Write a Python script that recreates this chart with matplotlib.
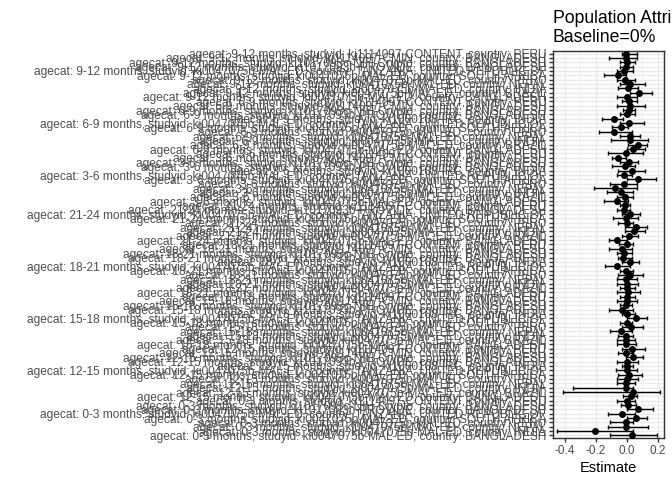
import numpy as np
import matplotlib
matplotlib.use("Agg")
import matplotlib.pyplot as plt

# age groups, top to bottom (ggplot puts the first factor level at the bottom)
agecats = ["9-12 months", "6-9 months", "3-6 months", "21-24 months",
           "18-21 months", "15-18 months", "12-15 months", "0-3 months"]

CONTENT = ("ki1114097-CONTENT", "PERU")
CMIN = ("ki1114097-CMIN", "BANGLADESH")
NIH = ("ki1017093c-NIH-Crypto", "BANGLADESH")
PROVIDE = ("ki1017093b-PROVIDE", "BANGLADESH")
IRC = ("ki1000108-IRC", "INDIA")
mal_ed = [("ki0047075b-MAL-ED", c) for c in
          ["TANZANIA, UNITED REPUBLIC OF", "SOUTH AFRICA", "PERU", "NEPAL",
           "INDIA", "BRAZIL", "BANGLADESH"]]
mal_ed_nobra = [s for s in mal_ed if s[1] != "BRAZIL"]

# studies inside each age group, top to bottom
studies = {
    "9-12 months": [CONTENT, CMIN, NIH, PROVIDE] + mal_ed,
    "6-9 months": [CONTENT, CMIN, NIH, PROVIDE, IRC] + mal_ed,
    "3-6 months": [CONTENT, CMIN, NIH, PROVIDE, IRC] + mal_ed,
    "21-24 months": [CONTENT, PROVIDE] + mal_ed,
    "18-21 months": [CONTENT, CMIN, NIH, PROVIDE, IRC] + mal_ed,
    "15-18 months": [CONTENT, CMIN, NIH, PROVIDE, IRC] + mal_ed,
    "12-15 months": [CONTENT, CMIN, NIH, PROVIDE, IRC] + mal_ed,
    "0-3 months": [CONTENT, NIH, PROVIDE] + mal_ed_nobra,
}

# estimates, top row first
estimate = [
    -0.006, -0.006, -0.002, -0.006, -0.019, -0.056, -0.011, 0.019, 0.009, 0.080,
    0.002, 0.015, 0.019, 0.015, 0.002, -0.084, 0.015, -0.041, -0.084, 0.019,
    0.019, 0.069, 0.041, -0.006, -0.056, 0.015, -0.013, 0.030, -0.017, 0.073,
    -0.017, -0.077, -0.041, -0.013, -0.067, -0.013, -0.019, 0.019, -0.006, -0.002,
    0.056, 0.047, 0.015, -0.062, -0.002, -0.034, -0.019,
    -0.024, 0.019, -0.062, -0.006, 0.019, -0.006, -0.002, 0.002, 0.009, 0.002,
    -0.002, -0.006, -0.034, 0.002, 0.058, -0.002, 0.026, -0.041, -0.006, -0.006,
    -0.006, 0.030, -0.006,
    0.041, 0.002, -0.002, -0.002, 0.015, -0.002, -0.006, -0.006, 0.037, 0.026,
    -0.002, 0.010, 0.073, -0.034, 0.058, -0.006, -0.006, -0.206, 0.030,
]
ci_lower = [
    -0.034, -0.114, -0.045, -0.045, -0.067, -0.148, -0.067, -0.045, -0.056, 0.019,
    -0.062, -0.034, -0.067, -0.024, -0.045, -0.163, -0.045, -0.099, -0.178, -0.045,
    -0.105, 0.009, -0.002, -0.120, -0.099, -0.045, -0.099, -0.056, -0.067, -0.002,
    -0.110, -0.213, -0.127, -0.067, -0.148, -0.045, -0.067, -0.034, -0.088, -0.056,
    -0.013, -0.013, -0.034, -0.114, -0.049, -0.114, -0.067,
    -0.056, -0.034, -0.142, -0.045, -0.056, -0.067, -0.067, -0.045, -0.067, -0.045,
    -0.067, -0.045, -0.114, -0.034, -0.002, -0.045, -0.034, -0.110, -0.056, -0.067,
    -0.067, -0.034, -0.056,
    -0.006, -0.067, -0.034, -0.071, -0.056, -0.067, -0.067, -0.346, -0.410, -0.024,
    -0.067, -0.040, -0.002, -0.125, -0.002, -0.110, -0.120, -0.454, -0.110,
]
ci_upper = [
    0.062, 0.062, 0.052, 0.041, 0.041, -0.006, 0.052, 0.116, 0.073, 0.159,
    0.062, 0.062, 0.116, 0.052, 0.052, -0.024, 0.110, 0.009, 0.030, 0.084,
    0.138, 0.131, 0.116, 0.105, -0.006, 0.073, 0.052, 0.116, 0.030, 0.187,
    0.062, 0.062, 0.041, 0.041, 0.009, 0.019, 0.019, 0.084, 0.073, 0.041,
    0.131, 0.116, 0.073, -0.002, 0.041, 0.030, 0.030,
    0.030, 0.080, 0.019, 0.041, 0.101, 0.062, 0.073, 0.052, 0.084, 0.052,
    0.062, 0.030, 0.041, 0.052, 0.131, 0.030, 0.101, 0.030, 0.041, 0.052,
    0.058, 0.116, 0.041,
    0.105, 0.073, 0.041, 0.062, 0.095, 0.073, 0.052, 0.037, 0.213, 0.062,
    0.052, 0.060, 0.170, 0.052, 0.127, 0.041, 0.138, 0.041, 0.191,
]

labels = []
for a in agecats:
    for sid, cty in studies[a]:
        labels.append(f"agecat: {a}, studyid: {sid}, country: {cty}")

est = np.array(estimate)
lo = np.array(ci_lower)
hi = np.array(ci_upper)
n = len(labels)
ypos = np.arange(n)[::-1]   # first row on top

W, H = 672, 480
fig = plt.figure(figsize=(7, 5), dpi=96)
ax = fig.add_axes([553 / W, 1 - 438 / H, (664 - 553) / W, (438 - 51) / H])

grey20 = "#333333"
ax.set_xlim(-0.477, 0.239)
ax.set_ylim(-0.6, n - 1 + 0.6)
ax.set_xticks([-0.4, -0.2, 0.0, 0.2])
ax.set_xticklabels(["-0.4", "-0.2", "0.0", "0.2"])
ax.set_xticks([-0.3, -0.1, 0.1], minor=True)
ax.set_yticks(ypos)
ax.set_yticklabels(labels)

ax.grid(True, which="major", color="#EBEBEB", lw=1.07, zorder=0)
ax.grid(True, which="minor", axis="x", color="#EBEBEB", lw=0.53, zorder=0)
ax.set_axisbelow(True)

ax.errorbar(est, ypos, xerr=[est - lo, hi - est], fmt="o", color="black",
            ms=4.2, elinewidth=1.07, capsize=1.4, capthick=1.07, zorder=3)

for s in ax.spines.values():
    s.set_color(grey20)
    s.set_linewidth(1.07)

ax.tick_params(axis="both", which="major", length=2.75, width=1.07, color=grey20,
               labelsize=8.8, labelcolor="#4D4D4D", pad=2.2)
ax.tick_params(axis="x", which="minor", length=0)
for t in ax.get_yticklabels():
    t.set_family("Liberation Sans")
    t.set_fontsize(8.9)
for t in ax.get_xticklabels():
    t.set_family("Liberation Sans")

ax.set_xlabel("Estimate", fontsize=11, family="Liberation Sans", labelpad=3)
ax.set_title("Population Attributable Fraction\nBaseline=0%", loc="left",
             fontsize=13.2, family="Liberation Sans", pad=6.5, linespacing=1.2)

fig.savefig("out.png", dpi=96)
